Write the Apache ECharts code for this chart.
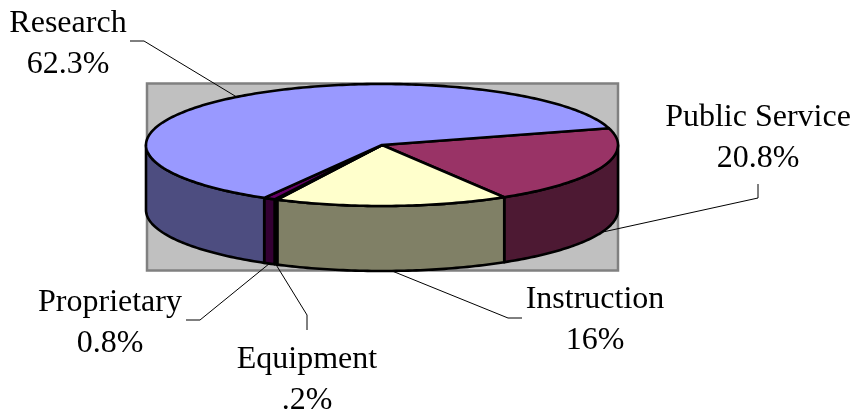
<!DOCTYPE html>
<html>
<head>
<meta charset="utf-8">
<style>html,body{margin:0;padding:0;background:#fff}#chart{width:855px;height:414px}</style>
<script src="https://cdn.jsdelivr.net/npm/echarts@6/dist/echarts.min.js"></script>
</head>
<body>
<div id="chart"></div>
<script>
// Funding sources, clockwise from the top-right edge of the pie
const categories = ['Public Service', 'Instruction', 'Equipment', 'Proprietary', 'Research'];
const shares = [20.8, 16, 0.2, 0.8, 62.3];
const shareLabels = ['20.8%', '16%', '.2%', '0.8%', '62.3%'];

const topColors = ['#993366', '#FFFFCC', '#CCFFFF', '#660066', '#9999FF'];
const wallColors = ['#4D1933', '#808066', '#668080', '#330033', '#4D4D80'];

// Drawing geometry of the tilted disc
const disc = { cx: 382, cy: 145, rx: 236, ry: 61, depth: 65, startDeg: 16 };
const backdrop = { x: 147, y: 83.5, width: 471, height: 187 };

// Where each caption sits and how its leader bends on the way to the pie
const captions = {
  'Public Service': { x: 758, y: 118, elbow: [[758, 198], [758, 184]] },
  'Instruction': { x: 595, y: 300, elbow: [[508, 318], [522, 318]] },
  'Equipment': { x: 307, y: 360, elbow: [[307, 315], [307, 330]] },
  'Proprietary': { x: 110, y: 303, elbow: [[200, 320], [186, 320]] },
  'Research': { x: 68, y: 24, elbow: [[144, 41], [130, 41]] }
};
const lineGap = 40.5;
const fontSize = 32;
const font = 'Liberation Serif, Times New Roman, serif';

const total = shares.reduce((a, b) => a + b, 0);
const rad = d => d * Math.PI / 180;
const rimPoint = (deg, drop) => [
  disc.cx + disc.rx * Math.cos(rad(deg)),
  disc.cy - disc.ry * Math.sin(rad(deg)) + (drop || 0)
];

// Angular span of a slice, walking clockwise on screen
function span(index) {
  let from = disc.startDeg;
  for (let i = 0; i < index; i++) from -= shares[i] / total * 360;
  return [from, from - shares[index] / total * 360];
}

function arc(a, b, drop) {
  const n = Math.max(2, Math.ceil(Math.abs(a - b)));
  const pts = [];
  for (let i = 0; i <= n; i++) pts.push(rimPoint(a + (b - a) * i / n, drop));
  return pts;
}

// The part of a slice whose outer wall faces the viewer (lower half of the ellipse)
function frontSpan(a, b) {
  const hi = Math.min(a, 0);
  const lo = Math.max(b, -180);
  return hi > lo ? [hi, lo] : null;
}

const stroke = { stroke: '#000', lineWidth: 2.6, lineJoin: 'round' };

function renderWall(params, api) {
  const i = api.value(0);
  const [a, b] = span(i);
  const f = frontSpan(a, b);
  if (!f) return { type: 'group', children: [] };
  const pts = arc(f[0], f[1], 0).concat(arc(f[1], f[0], disc.depth));
  return { type: 'polygon', shape: { points: pts }, style: Object.assign({ fill: wallColors[i] }, stroke) };
}

function renderTop(params, api) {
  const i = api.value(0);
  const [a, b] = span(i);
  const pts = [[disc.cx, disc.cy]].concat(arc(a, b, 0));
  return { type: 'polygon', shape: { points: pts }, style: Object.assign({ fill: topColors[i] }, stroke) };
}

function renderCaption(params, api) {
  const i = api.value(0);
  const name = categories[i];
  const c = captions[name];
  const [a, b] = span(i);
  const mid = (a + b) / 2;
  const anchor = rimPoint(mid, Math.sin(rad(mid)) < 0 ? disc.depth : 0);
  const textFont = fontSize + 'px ' + font;
  return {
    type: 'group',
    children: [
      { type: 'polyline', shape: { points: [anchor].concat(c.elbow) }, style: { stroke: '#000', lineWidth: 1, fill: null } },
      { type: 'text', style: { text: name, x: c.x, y: c.y, font: textFont, fill: '#000', textAlign: 'center', textVerticalAlign: 'middle' } },
      { type: 'text', style: { text: shareLabels[i], x: c.x, y: c.y + lineGap, font: textFont, fill: '#000', textAlign: 'center', textVerticalAlign: 'middle' } }
    ]
  };
}

const rows = categories.map((n, i) => [i, shares[i]]);
const layer = (renderItem, z) => ({
  type: 'custom', coordinateSystem: 'none', renderItem, data: rows, z, animation: false, silent: true, clip: false
});

const chart = echarts.init(document.getElementById('chart'), null, { renderer: 'canvas' });
chart.setOption({
  animation: false,
  backgroundColor: '#fff',
  graphic: [{
    type: 'rect', z: 0, shape: backdrop,
    style: { fill: '#C0C0C0', stroke: '#808080', lineWidth: 2.5 }
  }],
  series: [layer(renderWall, 2), layer(renderTop, 3), layer(renderCaption, 4)]
});
</script>
</body>
</html>
